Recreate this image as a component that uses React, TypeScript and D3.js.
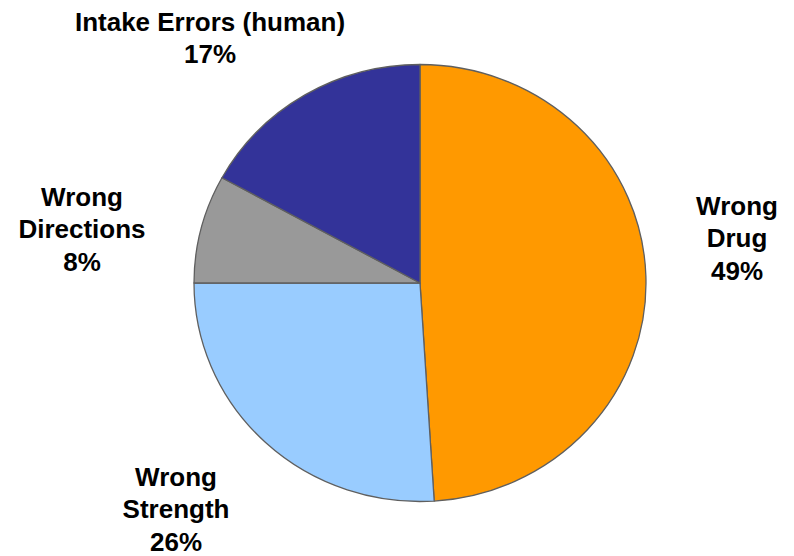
import React from "react";
import * as d3 from "d3";

const categories = ["Wrong Drug", "Wrong Strength", "Wrong Directions", "Intake Errors (human)"];
const values = [49, 26, 8, 17];
const labelLines = [["Wrong", "Drug"], ["Wrong", "Strength"], ["Wrong", "Directions"], ["Intake Errors (human)"]];
const colors = ["#FF9900", "#99CCFF", "#999999", "#333399"];

// label anchor (center x, first baseline y) in page coordinates
const labelAnchors: [number, number][] = [
  [737, 215],
  [176, 486],
  [82, 206],
  [210, 31],
];

const W = 794;
const H = 556;
const cx = 420;
const cy = 283;
const rx = 226;
const ry = 218.5;
const lineH = 32.4;

export default function App() {
  const pie = d3
    .pie<number>()
    .sort(null)
    .value((d) => d);
  const arcs = pie(values);
  const arc = d3.arc<d3.PieArcDatum<number>>().innerRadius(0).outerRadius(rx);

  return (
    <svg
      width={W}
      height={H}
      style={{ position: "absolute", left: 0, top: 0, background: "#fff" }}
      fontFamily="'Liberation Sans', Arial, sans-serif"
    >
      <g transform={`translate(${cx},${cy}) scale(1,${ry / rx})`}>
        {arcs.map((a, i) => (
          <path
            key={categories[i]}
            d={arc(a) || ""}
            fill={colors[i]}
            stroke="#5f5f5f"
            strokeWidth={1.3}
            vectorEffect="non-scaling-stroke"
            strokeLinejoin="round"
          />
        ))}
      </g>
      {arcs.map((a, i) => {
        const [x, y] = labelAnchors[i];
        const lines = [...labelLines[i], `${values[i]}%`];
        return (
          <text key={categories[i]} textAnchor="middle" fontWeight="bold" fontSize={26} fill="#000">
            {lines.map((l, j) => (
              <tspan key={j} x={x} y={y + j * lineH}>
                {l}
              </tspan>
            ))}
          </text>
        );
      })}
    </svg>
  );
}
